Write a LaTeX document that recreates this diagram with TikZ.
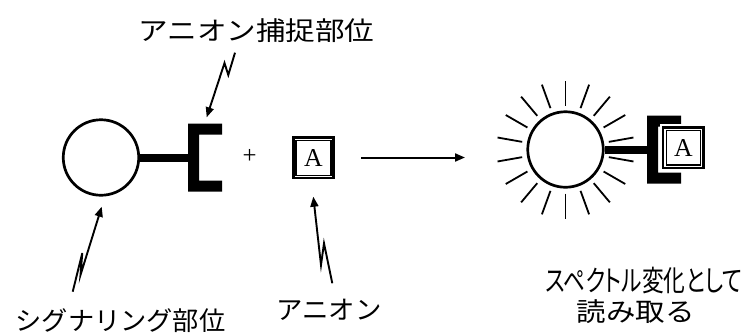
\documentclass[tikz,border=0pt]{standalone}
\usepackage{fontspec}
\setmainfont{Liberation Serif}
\newfontfamily\jp{Noto Sans CJK JP}
\newfontfamily\jpp[RawFeature=+palt]{Noto Sans CJK JP}
\usetikzlibrary{arrows.meta,calc}
\newcommand\fitto[2]{\resizebox{#1}{\height}{#2}}
\newcommand\bigA{\resizebox{!}{17pt}{A}}
\tikzset{
  hook/.pic={
    \fill (0,-34) -- (34,-34) -- (34,-23) -- (11,-23) -- (11,23) -- (34,23) -- (34,34) -- (0,34) -- cycle;
    \coordinate (-back) at (0,0);
  }
}
\begin{document}
\begin{tikzpicture}[x=1pt,y=-1pt,
  lbl/.style={inner sep=0pt, font=\jp\fontsize{26}{30}\selectfont},
  ring/.style={circle, draw, line width=2.7pt, minimum size=75.5pt, inner sep=0pt},
  stem/.style={line width=8pt},
  abox/.style={rectangle, draw, fill=white, line width=2.7pt, minimum width=40.5pt, minimum height=40.5pt, outer sep=0pt, inner sep=0pt},
  inframe/.style={line width=1.2pt},
  zig/.style={line width=1.9pt, -{Triangle[length=10pt,width=8pt]}},
  ray/.style={line width=1.8pt}
]
\useasboundingbox (0,0) rectangle (742,333);

% left: signalling unit with capture site
\node[ring] (sig) at (101,157.5) {};
\pic (hl) at (188,157.5) {hook};
\draw[stem] (sig.east) -- (hl-back);
\node[inner sep=0pt] (plus) at (249.5,156) {\resizebox{14pt}{!}{+}};
\node[abox] (anion) at (313.5,157.8) {\bigA};
\draw[inframe] ($(anion.north west)+(2.7,2.7)$) rectangle ($(anion.south east)+(-2.7,-2.7)$);

% reaction arrow
\coordinate (a1) at (361,157.5);
\coordinate (a2) at (465,157.5);
\draw[line width=2pt, -{Triangle[length=10pt,width=8pt]}] (a1) -- (a2);

% right: bound complex with spectral change
\node[ring] (sun) at (565.5,149.5) {};
\foreach \a in {10,30,...,350}
  \draw[ray] ($(sun.center)+(\a:44)$) -- ($(sun.center)+(\a:69)$);
\pic (hr) at (647,149.5) {hook};
\draw[stem] (sun.east) -- (hr-back);
\node[abox, preaction={draw=white, line width=7pt}] (bound) at (683.3,147.8) {\bigA};
\draw[inframe] ($(bound.north west)+(3.1,3.1)$) rectangle ($(bound.south east)+(-3.1,-3.1)$);

% labels
\node[lbl] (capL) at (256.5,30.5) {\fitto{236pt}{アニオン捕捉部位}};
\node[lbl] (sigL) at (120.5,321) {\fitto{210pt}{シグナリング部位}};
\node[lbl] (anL) at (329,310) {\fitto{105pt}{アニオン}};
\node[lbl, font=\jpp\fontsize{29}{32}\selectfont] (spL) at (644,281) {\fitto{197pt}{スペクトル変化として}};
\node[lbl] (rdL) at (635.5,311.5) {\fitto{118pt}{読み取る}};

% lightning pointers
\coordinate (c0) at (235,52.7);
\coordinate (c1) at (228.3,75);
\coordinate (c2) at (224.5,63);
\coordinate (c3) at (206.7,117.3);
\draw[zig] (c0) -- (c1) -- (c2) -- (c3);

\coordinate (s0) at (72.7,291.7);
\coordinate (s1) at (82.3,253);
\coordinate (s2) at (80.5,275);
\coordinate (s3) at (101.7,206.7);
\draw[zig] (s0) -- (s1) -- (s2) -- (s3);

\coordinate (n0) at (332.3,283.3);
\coordinate (n1) at (324,243.3);
\coordinate (n2) at (321,265);
\coordinate (n3) at (313.3,196.7);
\draw[zig] (n0) -- (n1) -- (n2) -- (n3);
\end{tikzpicture}
\end{document}
